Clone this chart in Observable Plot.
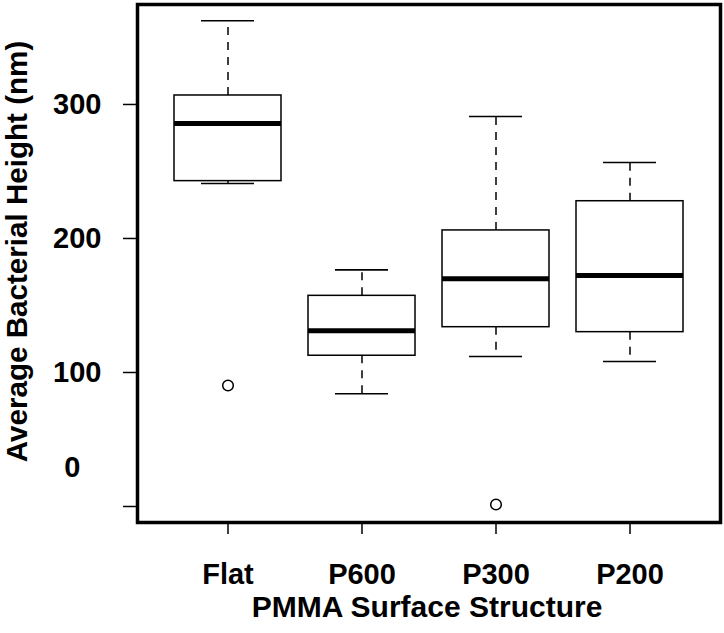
<!DOCTYPE html>
<html>
<head>
<meta charset="utf-8">
<script src="https://cdn.jsdelivr.net/npm/d3@7"></script>
<script src="https://cdn.jsdelivr.net/npm/@observablehq/plot@0.6"></script>
<style>
  html, body { margin: 0; padding: 0; background: #fff; }
  #chart svg { display: block; }
</style>
</head>
<body>
<div id="chart"></div>
<script>
// Box-plot statistics (nm)
const categories   = ["Flat", "P600", "P300", "P200"];
const lowerWhisker = [241.0,  84.1, 111.9, 108.2];
const q1           = [242.8, 112.5, 133.8, 130.1];
const median       = [285.8, 131.1, 169.9, 172.4];
const q3           = [306.7, 157.2, 206.0, 227.8];
const upperWhisker = [362.5, 176.6, 291.0, 256.7];
const outlierCats   = ["Flat", "P300"];
const outlierValues = [90.3, 1.5];
const yTicks = [0, 100, 200, 300];

const stats = categories.map((c, i) => ({
  cat: c, lo: lowerWhisker[i], q1: q1[i], med: median[i], q3: q3[i], hi: upperWhisker[i]
}));
const outliers = outlierCats.map((c, i) => ({cat: c, value: outlierValues[i]}));

const font = "'Liberation Sans', Arial, Helvetica, sans-serif";
const capInset = 27;

const chart = Plot.plot({
  width: 724,
  height: 633,
  marginLeft: 137,
  marginRight: 4,
  marginTop: 4,
  marginBottom: 111,
  style: {fontFamily: font, fontWeight: "bold", fontSize: "29px", color: "#000", background: "#fff"},
  x: {domain: categories, paddingInner: 0.2, paddingOuter: 0.26, axis: null},
  y: {domain: [-11.94, 374.6], axis: null},
  marks: [
    // whiskers (dashed)
    Plot.ruleX(stats, {x: "cat", y1: "q3", y2: "hi", stroke: "#000", strokeWidth: 1.5, strokeDasharray: "8,7"}),
    Plot.ruleX(stats, {x: "cat", y1: "q1", y2: "lo", stroke: "#000", strokeWidth: 1.5, strokeDasharray: "8,7"}),
    // staples
    Plot.tickY(stats, {x: "cat", y: "hi", stroke: "#000", strokeWidth: 1.6, insetLeft: capInset, insetRight: capInset}),
    Plot.tickY(stats, {x: "cat", y: "lo", stroke: "#000", strokeWidth: 1.6, insetLeft: capInset, insetRight: capInset}),
    // boxes
    Plot.barY(stats, {x: "cat", y1: "q1", y2: "q3", fill: "#fff", stroke: "#000", strokeWidth: 1.5}),
    // medians
    Plot.tickY(stats, {x: "cat", y: "med", stroke: "#000", strokeWidth: 5}),
    // outliers
    Plot.dot(outliers, {x: "cat", y: "value", r: 5.3, fill: "#fff", stroke: "#000", strokeWidth: 1.5}),
    // axes
    Plot.axisY({ticks: yTicks, tickSize: 14, tickPadding: 22, strokeWidth: 1.5,
      tickFormat: d => d === 0 ? "" : String(d), fontSize: 29, label: null}),
    Plot.text([0], {y: d => d, text: d => String(d), frameAnchor: "left", textAnchor: "end",
      dx: -57, dy: -39, fontSize: 29, fontWeight: "bold"}),
    Plot.axisX({tickSize: 12, tickPadding: 29, strokeWidth: 1.5, fontSize: 29, label: null}),
    // axis titles
    Plot.text(["Average Bacterial Height (nm)"], {frameAnchor: "left", textAnchor: "middle", rotate: -90,
      dx: -120, dy: -12, fontSize: 29.6, fontWeight: "bold"}),
    Plot.text(["PMMA Surface Structure"], {frameAnchor: "bottom", textAnchor: "middle", dy: 94,
      dx: -2, fontSize: 30, fontWeight: "bold"}),
    Plot.frame({stroke: "#000", strokeWidth: 3.5})
  ]
});
document.getElementById("chart").appendChild(chart);
</script>
</body>
</html>
